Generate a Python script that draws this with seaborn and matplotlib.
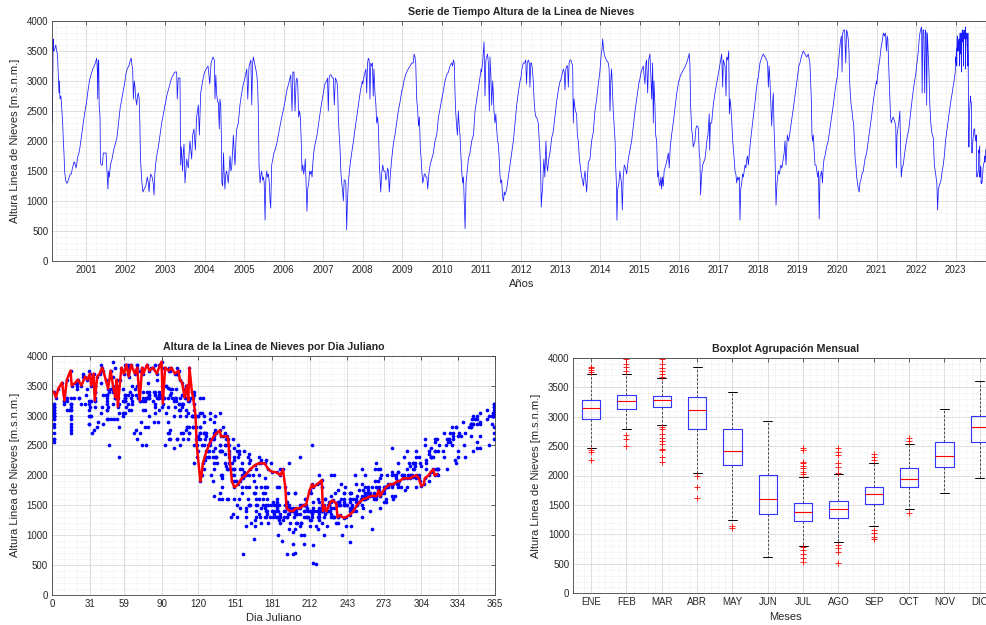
import numpy as np
import pandas as pd
import matplotlib
matplotlib.use("Agg")
import matplotlib.pyplot as plt
import matplotlib.dates as mdates
import matplotlib.ticker as mticker
import seaborn as sns

# ---------------- data (day of year, snow-line altitude m a.s.l.) ----------------
doy_2000 = [55, 58, 62, 66, 70, 79, 86, 94, 102, 110, 116, 120, 125, 134, 143, 150, 156, 162, 168, 177, 186, 193, 202, 211, 220, 230, 240, 248, 255, 260, 267, 273, 282, 291, 300, 310, 318, 325, 333, 340, 352, 365]
alt_2000 = [2300, 3000, 3700, 3500, 3500, 3550, 3600, 3500, 3450, 3100, 2800, 3000, 2700, 2750, 2500, 2300, 2000, 1800, 1500, 1350, 1300, 1300, 1350, 1400, 1450, 1450, 1550, 1600, 1650, 1650, 1600, 1550, 1650, 1750, 1800, 1900, 2000, 2100, 2200, 2300, 2450, 2600]
doy_2001 = [1, 15, 31, 45, 62, 75, 86, 98, 104, 108, 112, 117, 121, 125, 129, 133, 140, 150, 160, 172, 185, 195, 202, 208, 215, 225, 240, 255, 270, 285, 300, 315, 330, 345, 360]
alt_2001 = [2600, 2800, 3000, 3100, 3200, 3250, 3300, 3380, 3200, 2700, 3300, 3350, 2600, 2500, 2400, 1650, 1600, 1600, 1800, 1800, 1800, 1450, 1200, 1500, 1400, 1600, 1700, 1850, 1950, 2050, 2300, 2550, 2700, 2850, 3000]
doy_2002 = [1, 15, 30, 45, 52, 60, 66, 72, 80, 87, 95, 103, 110, 118, 126, 132, 138, 149, 160, 172, 187, 201, 210, 217, 225, 232, 245, 255, 263, 270, 280, 292, 303, 318, 334, 350, 364]
alt_2002 = [3100, 3200, 3250, 3350, 3380, 3250, 3200, 2700, 3000, 2900, 2700, 2600, 2750, 2800, 2700, 2300, 1700, 1350, 1150, 1200, 1250, 1400, 1300, 1150, 1350, 1450, 1400, 1300, 1100, 1450, 1650, 1800, 1900, 2100, 2300, 2450, 2600]
doy_2003 = [1, 15, 30, 46, 60, 76, 90, 101, 107, 113, 122, 130, 138, 144, 150, 156, 162, 168, 175, 184, 192, 200, 208, 215, 222, 230, 238, 246, 255, 267, 280, 292, 307, 317, 329, 347, 358]
alt_2003 = [2600, 2750, 2850, 2950, 3050, 3100, 3150, 3150, 3150, 2700, 3050, 3050, 3050, 1600, 1900, 1700, 1500, 1800, 1950, 1300, 1500, 1700, 1600, 1550, 1800, 2000, 1850, 1700, 2100, 2200, 1850, 2400, 2600, 2100, 2800, 3000, 3100]
doy_2004 = [1, 15, 32, 48, 60, 78, 90, 96, 104, 111, 120, 127, 136, 142, 149, 155, 160, 167, 175, 182, 188, 196, 204, 212, 219, 228, 235, 243, 250, 258, 266, 274, 281, 290, 297, 312, 327, 343, 358]
alt_2004 = [3150, 3200, 3250, 2950, 3300, 3400, 3350, 2700, 3100, 2800, 2650, 2650, 2200, 2700, 2600, 2100, 1300, 1250, 1800, 1400, 1200, 1450, 1500, 1400, 1300, 1550, 1750, 1500, 1550, 1800, 2100, 1800, 1600, 2000, 2200, 2300, 2600, 2800, 2950]
doy_2005 = [1, 12, 24, 33, 45, 54, 62, 70, 78, 85, 95, 107, 117, 125, 132, 137, 147, 155, 162, 170, 177, 185, 193, 200, 208, 216, 224, 232, 239, 245, 254, 265, 275, 285, 300, 316, 332, 347, 360]
alt_2005 = [3000, 3100, 3200, 2700, 3250, 3300, 3350, 2600, 3300, 3400, 3300, 3200, 3100, 2900, 2400, 1600, 1300, 1450, 1500, 1350, 1400, 1300, 680, 1350, 1500, 1400, 1450, 1300, 1000, 880, 1600, 1700, 1800, 1850, 1950, 2100, 2250, 2400, 2500]
doy_2006 = [1, 15, 30, 45, 58, 65, 77, 85, 95, 105, 115, 123, 130, 138, 146, 154, 162, 169, 177, 185, 193, 200, 207, 215, 222, 231, 240, 246, 255, 262, 270, 277, 290, 308, 323, 339, 352, 364]
alt_2006 = [2550, 2700, 2850, 2950, 3050, 3100, 2500, 3150, 3150, 2500, 3000, 3050, 2950, 2400, 2500, 2400, 2000, 1500, 1600, 1450, 1550, 1700, 1300, 830, 1200, 1300, 1500, 1450, 1500, 1400, 1650, 1800, 1950, 2100, 2300, 2500, 2650, 2800]
doy_2007 = [1, 15, 32, 40, 47, 55, 63, 75, 85, 94, 103, 112, 125, 133, 140, 148, 155, 163, 171, 178, 186, 194, 201, 209, 217, 224, 232, 245, 263, 280, 294, 310, 325, 345, 362]
alt_2007 = [2800, 2950, 3000, 3050, 2500, 3050, 3100, 3100, 3050, 3050, 2600, 3050, 3000, 2900, 2400, 2100, 1900, 1500, 1300, 1200, 1000, 1350, 1350, 1300, 520, 1000, 1300, 1550, 1800, 2000, 2200, 2400, 2600, 2850, 3000]
doy_2008 = [1, 15, 30, 37, 45, 52, 60, 67, 75, 83, 90, 97, 104, 113, 122, 129, 138, 146, 154, 160, 167, 175, 185, 195, 206, 214, 222, 230, 237, 246, 256, 268, 283, 298, 314, 329, 345, 362]
alt_2008 = [2950, 3100, 3200, 2800, 3300, 3380, 3350, 2700, 3300, 3250, 3300, 2750, 3200, 2800, 2600, 2300, 2400, 2200, 1600, 1400, 1150, 1450, 1600, 1500, 1500, 1350, 1400, 1550, 1500, 1150, 1450, 1700, 1950, 2100, 2300, 2500, 2650, 2850]
doy_2009 = [1, 15, 30, 41, 55, 72, 87, 102, 109, 117, 124, 133, 142, 150, 158, 166, 174, 180, 188, 195, 203, 210, 218, 226, 235, 245, 257, 272, 287, 302, 318, 334, 350, 364]
alt_2009 = [2850, 3000, 3100, 3150, 3200, 3250, 3300, 3300, 3450, 3400, 3300, 2700, 2500, 2250, 2400, 1900, 1700, 1500, 1300, 1350, 1450, 1450, 1400, 1400, 1200, 1450, 1600, 1700, 1800, 2000, 2100, 2400, 2550, 2700]
doy_2010 = [1, 15, 30, 45, 61, 76, 92, 100, 107, 115, 122, 128, 135, 144, 153, 162, 168, 175, 184, 193, 200, 207, 215, 224, 235, 245, 260, 276, 292, 307, 323, 338, 352, 364]
alt_2010 = [2700, 2850, 3000, 3100, 3150, 3250, 3300, 3250, 3350, 3300, 2800, 2500, 2300, 2100, 2500, 2200, 2100, 1800, 1500, 1300, 1400, 1000, 540, 1300, 1500, 1700, 1800, 2000, 2100, 2500, 2700, 2900, 3050, 3200]
doy_2011 = [1, 12, 25, 34, 42, 50, 58, 65, 74, 80, 88, 96, 105, 111, 117, 126, 134, 142, 150, 157, 166, 172, 179, 188, 198, 205, 212, 219, 226, 234, 250, 265, 280, 296, 312, 327, 345, 363]
alt_2011 = [3150, 3300, 3650, 2750, 3350, 3400, 3450, 3300, 2500, 3400, 3100, 2600, 3000, 2800, 2500, 2300, 2450, 2200, 2000, 1950, 1700, 1450, 1300, 1350, 1050, 1000, 1150, 1100, 1150, 1200, 1400, 1600, 1800, 2000, 2300, 2600, 2850, 3050]
doy_2012 = [1, 10, 22, 35, 45, 53, 60, 69, 78, 84, 92, 99, 107, 115, 122, 130, 139, 146, 154, 161, 170, 177, 183, 189, 195, 201, 207, 213, 222, 232, 240, 247, 258, 269, 285, 299, 315, 330, 347, 363]
alt_2012 = [3050, 3200, 3300, 3300, 3350, 2950, 3300, 3350, 3300, 2900, 3300, 3300, 3200, 3000, 2700, 2500, 2400, 2400, 2350, 2300, 2000, 1800, 1500, 900, 1100, 1200, 1500, 1700, 1400, 2000, 1600, 1500, 1700, 1800, 2050, 2150, 2400, 2650, 2850, 3000]
doy_2013 = [1, 14, 27, 35, 42, 50, 58, 66, 73, 80, 88, 97, 105, 113, 119, 125, 132, 138, 150, 156, 165, 175, 185, 196, 204, 212, 220, 227, 235, 242, 258, 273, 288, 304, 319, 335, 350, 364]
alt_2013 = [3000, 3100, 3200, 3150, 2850, 3200, 3250, 3250, 2900, 3300, 3350, 3350, 3300, 3250, 2300, 2700, 2600, 2500, 2450, 2100, 2000, 1700, 1550, 1400, 1350, 1250, 1400, 1500, 1300, 1150, 1650, 1700, 2000, 2150, 2500, 2700, 2950, 3150]
doy_2014 = [1, 10, 20, 25, 35, 47, 60, 77, 85, 93, 100, 108, 116, 123, 133, 140, 145, 152, 157, 164, 176, 184, 191, 199, 207, 215, 225, 236, 247, 262, 277, 293, 308, 324, 340, 352, 363]
alt_2014 = [3200, 3400, 3550, 3700, 3500, 3400, 3350, 3300, 3200, 2500, 3000, 3200, 2800, 2500, 2200, 2000, 1600, 1300, 680, 1200, 1300, 1500, 1400, 1300, 850, 1400, 1600, 1550, 1450, 1700, 1850, 2000, 2250, 2500, 2700, 2850, 3000]
doy_2015 = [1, 15, 35, 51, 60, 66, 76, 85, 97, 105, 113, 122, 128, 134, 143, 150, 159, 168, 174, 182, 190, 198, 205, 212, 220, 228, 236, 251, 267, 275, 285, 297, 312, 328, 345, 363]
alt_2015 = [3000, 3150, 3250, 2950, 3300, 3350, 2800, 3350, 3450, 3100, 2700, 3300, 2300, 3000, 2600, 2100, 2000, 1400, 1500, 1300, 1250, 1400, 1200, 1400, 1250, 1500, 1550, 1650, 1800, 1550, 1900, 2100, 2300, 2550, 2800, 3000]
doy_2016 = [1, 15, 31, 45, 60, 71, 80, 88, 95, 101, 108, 117, 125, 132, 140, 148, 156, 163, 172, 180, 187, 194, 200, 208, 219, 230, 240, 250, 258, 268, 280, 284, 290, 302, 317, 333, 348, 364]
alt_2016 = [3000, 3100, 3150, 3200, 3250, 3300, 3350, 3400, 3460, 3300, 2600, 2200, 2100, 1900, 1950, 2000, 2200, 2250, 2250, 2200, 1800, 1700, 1100, 1400, 1600, 1650, 1700, 1850, 2000, 2100, 2450, 1850, 2300, 2300, 2600, 2800, 2950, 3100]
doy_2017 = [1, 15, 29, 38, 44, 52, 60, 69, 75, 85, 94, 100, 106, 112, 120, 131, 140, 152, 160, 168, 176, 183, 192, 198, 205, 214, 222, 229, 237, 245, 253, 260, 268, 275, 285, 295, 308, 322, 337, 352, 364]
alt_2017 = [3150, 3300, 3450, 2900, 3350, 3300, 3250, 2750, 3400, 3350, 3500, 2450, 2700, 2600, 2400, 2000, 1800, 1500, 1450, 1300, 1400, 1350, 1400, 680, 1200, 1300, 1450, 1400, 1500, 1600, 1550, 1700, 1750, 1600, 1800, 2000, 2200, 2400, 2650, 2900, 3050]
doy_2018 = [1, 18, 35, 48, 64, 80, 88, 95, 102, 110, 118, 126, 133, 141, 148, 156, 166, 175, 187, 198, 209, 220, 233, 241, 249, 258, 270, 282, 295, 310, 326, 345, 363]
alt_2018 = [3050, 3300, 3400, 3450, 3400, 3350, 3300, 2900, 3250, 3000, 2600, 2250, 2600, 2800, 2200, 1800, 930, 1300, 1500, 1450, 1600, 1550, 1700, 1800, 2000, 1600, 2100, 2000, 2150, 2350, 2550, 2800, 3050]
doy_2019 = [1, 12, 22, 35, 53, 68, 84, 99, 108, 114, 120, 127, 133, 139, 145, 151, 161, 170, 178, 186, 193, 200, 207, 215, 222, 230, 238, 245, 253, 268, 283, 299, 315, 330, 347, 364]
alt_2019 = [3100, 3250, 3300, 3400, 3500, 3450, 3400, 3450, 3350, 3300, 3000, 2700, 2100, 2000, 2100, 1900, 1600, 1600, 1500, 1400, 1500, 700, 1400, 1450, 1500, 1300, 1600, 1700, 1750, 1900, 2000, 2200, 2400, 2600, 2850, 3050]
doy_2020 = [1, 10, 20, 30, 40, 46, 52, 60, 70, 80, 88, 96, 103, 110, 116, 122, 130, 138, 146, 153, 160, 167, 174, 181, 188, 196, 204, 211, 220, 230, 242, 258, 273, 288, 303, 318, 334, 350, 364]
alt_2020 = [3050, 3250, 3450, 3650, 3750, 3150, 3800, 3850, 3850, 3300, 3850, 3800, 3700, 3500, 3000, 2800, 2600, 2500, 2350, 2300, 2000, 1700, 1600, 1400, 1300, 1200, 1150, 1300, 1350, 1450, 1500, 1700, 1800, 2000, 2200, 2400, 2650, 2850, 3000]
doy_2021 = [1, 15, 28, 40, 50, 62, 72, 81, 90, 97, 103, 110, 116, 122, 128, 134, 142, 152, 162, 170, 176, 182, 188, 195, 204, 214, 220, 227, 235, 245, 256, 266, 280, 297, 312, 328, 346, 364]
alt_2021 = [2950, 3200, 3350, 3550, 3650, 3800, 3750, 3800, 3500, 3750, 3700, 3300, 3000, 2700, 2400, 2300, 2350, 2400, 2350, 2300, 2250, 1550, 2100, 2200, 2300, 2500, 2000, 1400, 1550, 1600, 1750, 1900, 2050, 2200, 2450, 2700, 2950, 3150]
doy_2022 = [1, 10, 20, 30, 40, 50, 55, 62, 70, 79, 85, 92, 97, 103, 110, 117, 126, 135, 143, 150, 158, 168, 176, 184, 191, 198, 205, 213, 220, 230, 240, 250, 260, 271, 285, 300, 315, 333, 350, 364]
alt_2022 = [3200, 3350, 3500, 3750, 3850, 3900, 2800, 3850, 3850, 2800, 3850, 3800, 2600, 3800, 3500, 3200, 2600, 2300, 2150, 2100, 2050, 1600, 1500, 1400, 1300, 850, 1200, 1250, 1300, 1350, 1500, 1600, 1750, 2000, 2200, 2400, 2600, 2800, 3000, 3200]
doy_2023 = [1, 3, 5, 8, 10, 12, 15, 16, 19, 21, 24, 27, 29, 31, 32, 34, 35, 37, 39, 41, 42, 44, 46, 48, 50, 52, 53, 54, 56, 57, 59, 61, 63, 65, 68, 70, 72, 74, 75, 78, 80, 83, 86, 89, 90, 91, 93, 96, 98, 101, 104, 105, 107, 109, 111, 112, 113, 115, 116, 118, 119, 122, 123, 124, 127, 130, 133, 135, 138, 139, 141, 144, 145, 146, 148, 150, 153, 156, 159, 163, 167, 170, 172, 175, 178, 181, 185, 188, 190, 192, 193, 196, 198, 201, 204, 207, 209, 212, 214, 215, 218, 220, 222, 223, 224, 226, 229, 231, 234, 235, 237, 240, 242, 245, 248, 251, 253, 256, 259, 262, 264, 267, 269, 270, 273, 275, 278, 281, 284, 286, 289, 292, 295, 297, 300, 302, 304, 306, 307, 310, 312, 314, 315, 317]
alt_2023 = [3400, 3300, 3450, 3550, 3250, 3600, 3750, 3500, 3550, 3600, 3500, 3650, 3600, 3700, 3500, 3700, 3250, 3650, 3700, 3800, 3750, 3600, 3450, 3750, 3500, 3300, 3600, 3150, 3600, 3800, 3700, 3850, 3650, 3850, 3700, 3800, 3250, 3800, 3700, 3850, 3750, 3800, 3700, 3850, 3900, 3200, 3800, 3750, 3800, 3700, 3750, 3600, 3550, 3300, 3500, 3250, 3800, 3400, 3300, 3000, 2500, 1900, 2000, 2200, 2400, 2550, 2650, 2700, 2750, 2650, 2650, 2650, 2600, 2300, 1900, 1800, 1850, 1950, 2000, 2100, 2170, 2200, 2200, 2200, 2100, 2060, 2050, 2000, 2100, 1800, 1450, 1400, 1400, 1450, 1450, 1500, 1500, 1750, 1850, 1800, 1850, 1880, 1920, 1400, 1500, 1400, 1550, 1580, 1530, 1300, 1330, 1290, 1300, 1340, 1400, 1500, 1550, 1600, 1620, 1650, 1660, 1650, 1750, 1650, 1750, 1800, 1850, 1850, 1900, 1900, 1950, 1950, 1950, 1980, 2000, 1950, 1820, 1850, 1950, 2000, 2060, 2100, 2000, 2020]

year_table = [
    (2000, doy_2000, alt_2000), (2001, doy_2001, alt_2001), (2002, doy_2002, alt_2002),
    (2003, doy_2003, alt_2003), (2004, doy_2004, alt_2004), (2005, doy_2005, alt_2005),
    (2006, doy_2006, alt_2006), (2007, doy_2007, alt_2007), (2008, doy_2008, alt_2008),
    (2009, doy_2009, alt_2009), (2010, doy_2010, alt_2010), (2011, doy_2011, alt_2011),
    (2012, doy_2012, alt_2012), (2013, doy_2013, alt_2013), (2014, doy_2014, alt_2014),
    (2015, doy_2015, alt_2015), (2016, doy_2016, alt_2016), (2017, doy_2017, alt_2017),
    (2018, doy_2018, alt_2018), (2019, doy_2019, alt_2019), (2020, doy_2020, alt_2020),
    (2021, doy_2021, alt_2021), (2022, doy_2022, alt_2022), (2023, doy_2023, alt_2023),
]

# monthly boxplot statistics
months = ["ENE", "FEB", "MAR", "ABR", "MAY", "JUN", "JUL", "AGO", "SEP", "OCT", "NOV", "DIC"]
box_q1 = [2955, 3125, 3160, 2790, 2180, 1347, 1234, 1285, 1511, 1811, 2150, 2575]
box_med = [3141, 3265, 3282, 3113, 2417, 1607, 1381, 1437, 1681, 1935, 2332, 2818]
box_q3 = [3282, 3362, 3356, 3339, 2790, 2009, 1528, 1568, 1800, 2122, 2575, 3016]
box_whislo = [2473, 2784, 2850, 2050, 1245, 623, 809, 872, 1143, 1432, 1698, 1964]
box_whishi = [3718, 3718, 3650, 3837, 3413, 2926, 1981, 2020, 2218, 2530, 3135, 3611]
box_fliers = [
    [3850, 3820, 3790, 3760, 2440, 2400, 2260],
    [3980, 3900, 3850, 3780, 2680, 2620, 2500],
    [3970, 3900, 3830, 3780, 3730, 3680, 2830, 2790, 2700, 2640, 2580, 2530, 2450, 2430, 2320, 2230],
    [1990, 1810, 1610],
    [1150, 1110],
    [],
    [2462, 2433, 2235, 2207, 2162, 2122, 2066, 2026, 792, 736, 668, 606, 526],
    [2462, 2405, 2348, 2218, 2150, 2048, 820, 764, 707, 509],
    [2366, 2320, 2264, 1075, 1019, 951, 917],
    [2632, 2586, 1358],
    [],
    [],
]

julian_ticks = [0, 31, 59, 90, 120, 151, 181, 212, 243, 273, 304, 334, 365]

# ---------------- build table ----------------
rows = []
for yr, dd, vv in year_table:
    if len(dd) != len(vv):
        raise ValueError(f"length mismatch in {yr}: {len(dd)} vs {len(vv)}")
    for d, v in zip(dd, vv):
        rows.append((pd.Timestamp(f"{yr}-01-01") + pd.Timedelta(days=d - 1), d, v, yr))
df = pd.DataFrame(rows, columns=["fecha", "doy", "alt", "anio"]).sort_values("fecha")

# ---------------- style ----------------
sns.set_theme(style="white")
plt.rcParams["font.family"] = ["Liberation Sans", "DejaVu Sans"]
TXT = "#262626"

def matlab_axes(ax):
    ax.set_facecolor("white")
    for s in ax.spines.values():
        s.set_visible(True)
        s.set_color("#404040")
        s.set_linewidth(0.6)
    ax.tick_params(which="major", direction="in", length=3, width=0.5, colors=TXT,
                   top=True, right=True, labelsize=7, pad=3)
    ax.tick_params(which="minor", length=0, top=True, right=True)
    ax.grid(True, which="major", color="#d9d9d9", lw=0.6, ls="-")
    ax.grid(True, which="minor", color="#e2e2e2", lw=0.5, ls=(0, (1, 1.5)))
    ax.set_axisbelow(True)

BLUE = "#0000ff"
W, H = 987, 625
fig = plt.figure(figsize=(W / 100, H / 100), dpi=100)

def px_axes(x0, y0, x1, y1):
    return fig.add_axes([x0 / W, 1 - y1 / H, (x1 - x0) / W, (y1 - y0) / H])

TITLE_FS = 7.7

# ---------------- top: time series ----------------
ax1 = px_axes(52.4, 21, 990, 261)
sns.lineplot(data=df, x="fecha", y="alt", ax=ax1, color="#1a1aff", lw=0.55,
             estimator=None, sort=False, legend=False)
ax1.set_xlim(df["fecha"].min(), df["fecha"].max())
ax1.set_ylim(0, 4000)
ax1.xaxis.set_major_locator(mdates.YearLocator())
ax1.xaxis.set_major_formatter(mdates.DateFormatter("%Y"))
ax1.xaxis.set_minor_locator(mdates.MonthLocator(bymonth=[4, 7, 10]))
ax1.yaxis.set_major_locator(mticker.MultipleLocator(500))
ax1.yaxis.set_minor_locator(mticker.MultipleLocator(100))
matlab_axes(ax1)
ax1.set_title("Serie de Tiempo Altura de la Linea de Nieves", fontsize=TITLE_FS, fontweight="bold", pad=4)
ax1.set_xlabel("Años", fontsize=8, color=TXT, labelpad=3)
ax1.set_ylabel("Altura Linea de Nieves [m.s.n.m.]", fontsize=8, color=TXT, labelpad=5)

# ---------------- bottom-left: julian day ----------------
ax2 = px_axes(52.3, 355.7, 495.3, 595)
sns.scatterplot(data=df, x="doy", y="alt", ax=ax2, color=BLUE, s=7, linewidth=0, legend=False)
sns.lineplot(x=doy_2023, y=alt_2023, ax=ax2, color="red", lw=1.8, estimator=None, sort=False)
ax2.set_xlim(0, 365)
ax2.set_ylim(0, 4000)
ax2.set_xticks(julian_ticks)
ax2.xaxis.set_minor_locator(mticker.MultipleLocator(10))
ax2.yaxis.set_major_locator(mticker.MultipleLocator(500))
ax2.yaxis.set_minor_locator(mticker.MultipleLocator(100))
matlab_axes(ax2)
ax2.set_title("Altura de la Linea de Nieves por Dia Juliano", fontsize=TITLE_FS, fontweight="bold", pad=4)
ax2.set_xlabel("Dia Juliano", fontsize=8, color=TXT, labelpad=3)
ax2.set_ylabel("Altura Linea de Nieves [m.s.n.m.]", fontsize=8, color=TXT, labelpad=5)

# ---------------- bottom-right: monthly boxplot ----------------
ax3 = px_axes(573.5, 357.7, 997.5, 593.3)
stats = []
for i, m in enumerate(months):
    stats.append(dict(label=m, med=box_med[i], q1=box_q1[i], q3=box_q3[i],
                      whislo=box_whislo[i], whishi=box_whishi[i], fliers=box_fliers[i]))
res = ax3.bxp(stats, positions=list(range(1, 13)), widths=0.52, capwidths=0.26, showfliers=True,
              whiskerprops=dict(color="black", ls=(0, (3, 2)), lw=0.6),
              capprops=dict(color="black", lw=0.7),
              flierprops=dict(marker="+", markeredgecolor="red", markersize=5, mew=0.6, ls="none"))
for b in res["boxes"]:
    b.set_color("#3333ff")
    b.set_linewidth(0.8)
    b.set_zorder(3)
for m_ in res["medians"]:
    m_.set_color("red")
    m_.set_linewidth(0.8)
    m_.set_zorder(4)
for w_ in res["whiskers"]:
    w_.set_color("#333333")
ax3.set_xlim(0.5, 12.5)
ax3.set_ylim(0, 4000)
ax3.set_xticks(range(1, 13))
ax3.set_xticklabels(months)
ax3.xaxis.set_minor_locator(mticker.MultipleLocator(0.2))
ax3.yaxis.set_major_locator(mticker.MultipleLocator(500))
ax3.yaxis.set_minor_locator(mticker.MultipleLocator(100))
matlab_axes(ax3)
ax3.set_title("Boxplot Agrupación Mensual", fontsize=TITLE_FS, fontweight="bold", pad=4)
ax3.set_xlabel("Meses", fontsize=8, color=TXT, labelpad=3)
ax3.set_ylabel("Altura Linea de Nieves [m.s.n.m.]", fontsize=8, color=TXT, labelpad=5)

fig.savefig("out.png", dpi=100)
